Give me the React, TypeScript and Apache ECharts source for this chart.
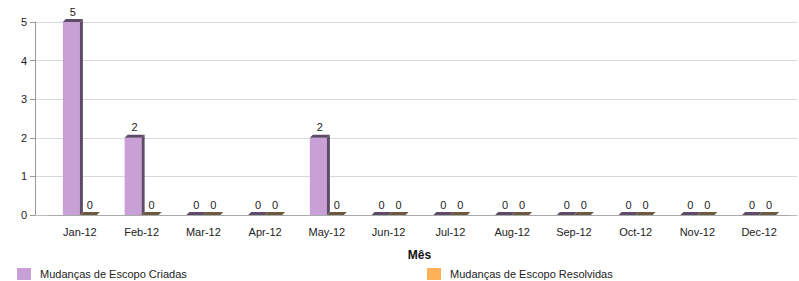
import React, { useEffect, useRef } from "react";
import * as echarts from "echarts";

const categories = ["Jan-12", "Feb-12", "Mar-12", "Apr-12", "May-12", "Jun-12", "Jul-12", "Aug-12", "Sep-12", "Oct-12", "Nov-12", "Dec-12"];
const criadas = [5, 2, 0, 0, 2, 0, 0, 0, 0, 0, 0, 0];
const resolvidas = [0, 0, 0, 0, 0, 0, 0, 0, 0, 0, 0, 0];
const seriesNames = ["Mudanças de Escopo Criadas", "Mudanças de Escopo Resolvidas"];
const yTicks = [0, 1, 2, 3, 4, 5];

const FONT = "Liberation Sans, Arial, sans-serif";

function make3DRender(offsetIndex: number, front: string, dark: string) {
  return (params: any, api: any) => {
    const idx = api.value(0);
    const val = api.value(1);
    const top = api.coord([idx, val]);
    const base = api.coord([idx, 0]);
    const w = 17;
    const d = 3;
    const x0 = offsetIndex === 0 ? top[0] - w : top[0];
    const yTop = top[1];
    const yBase = base[1];
    const children: any[] = [];
    if (yBase - yTop > 0.5) {
      children.push({
        type: "rect",
        shape: { x: x0, y: yTop, width: w, height: yBase - yTop },
        style: { fill: front },
      });
      children.push({
        type: "polygon",
        shape: { points: [[x0 + w, yTop], [x0 + w + d, yTop - d], [x0 + w + d, yBase - d], [x0 + w, yBase]] },
        style: { fill: dark },
      });
    }
    children.push({
      type: "polygon",
      shape: { points: [[x0, yTop], [x0 + d, yTop - d], [x0 + w + d, yTop - d], [x0 + w, yTop]] },
      style: { fill: dark },
    });
    children.push({
      type: "text",
      style: {
        text: String(val),
        x: x0 + w / 2 + d / 2,
        y: yTop - d - 2,
        textAlign: "center",
        textVerticalAlign: "bottom",
        fill: "#222",
        font: "11px " + FONT,
      },
    });
    return { type: "group", children };
  };
}

export default function App() {
  const ref = useRef<HTMLDivElement>(null);
  useEffect(() => {
    if (!ref.current) return;
    const chart = echarts.init(ref.current, null, { renderer: "svg" });
    chart.setOption({
      animation: false,
      textStyle: { fontFamily: FONT },
      grid: [
        { left: 35, right: 2, top: 22, bottom: 66 },
        { left: 49, right: 9, top: 22, bottom: 66 },
      ],
      legend: [
        {
          data: [seriesNames[0]],
          left: 17,
          top: 268,
          padding: 0,
          itemWidth: 14,
          itemHeight: 12,
          icon: "rect",
          textStyle: { fontSize: 11, color: "#222", fontFamily: FONT, padding: [0, 0, 0, 4] },
        },
        {
          data: [seriesNames[1]],
          left: 427,
          top: 268,
          padding: 0,
          itemWidth: 14,
          itemHeight: 12,
          icon: "rect",
          textStyle: { fontSize: 11, color: "#222", fontFamily: FONT, padding: [0, 0, 0, 4] },
        },
      ],
      xAxis: [
        {
          type: "category",
          gridIndex: 0,
          data: categories,
          axisLine: { show: true, lineStyle: { color: "#bbb" } },
          axisTick: { show: false },
          axisLabel: { show: false },
        },
        {
          type: "category",
          gridIndex: 1,
          data: categories,
          name: "Mês",
          nameLocation: "middle",
          nameGap: 34,
          nameTextStyle: { fontWeight: "bold", fontSize: 12, color: "#111", fontFamily: FONT },
          axisLine: { lineStyle: { color: "#aaa" } },
          axisTick: { alignWithLabel: true, length: 6, lineStyle: { color: "#999" } },
          axisLabel: { fontSize: 11, color: "#222", margin: 11, fontFamily: FONT },
        },
      ],
      yAxis: [
        {
          type: "value",
          gridIndex: 0,
          min: yTicks[0],
          max: yTicks[yTicks.length - 1],
          interval: 1,
          axisLine: { show: true, lineStyle: { color: "#999" } },
          axisTick: { show: true, length: 5, lineStyle: { color: "#999" } },
          axisLabel: { fontSize: 11, color: "#222", margin: 8, fontFamily: FONT },
          splitLine: { lineStyle: { color: "#d8d8d8" } },
        },
        {
          type: "value",
          gridIndex: 1,
          min: yTicks[0],
          max: yTicks[yTicks.length - 1],
          interval: 1,
          show: false,
        },
      ],
      series: [
        {
          name: seriesNames[0],
          type: "custom",
          xAxisIndex: 1,
          yAxisIndex: 1,
          itemStyle: { color: "#C9A0D6" },
          renderItem: make3DRender(0, "#C9A0D6", "#5E4C66"),
          data: criadas.map((v, i) => [i, v]),
          z: 3,
        },
        {
          name: seriesNames[1],
          type: "custom",
          xAxisIndex: 1,
          yAxisIndex: 1,
          itemStyle: { color: "#FFB257" },
          renderItem: make3DRender(1, "#FFB257", "#6B5A40"),
          data: resolvidas.map((v, i) => [i, v]),
          z: 4,
        },
      ],
    });
    return () => chart.dispose();
  }, []);
  return <div ref={ref} style={{ position: "absolute", left: 0, top: 0, width: 799, height: 281 }} />;
}
